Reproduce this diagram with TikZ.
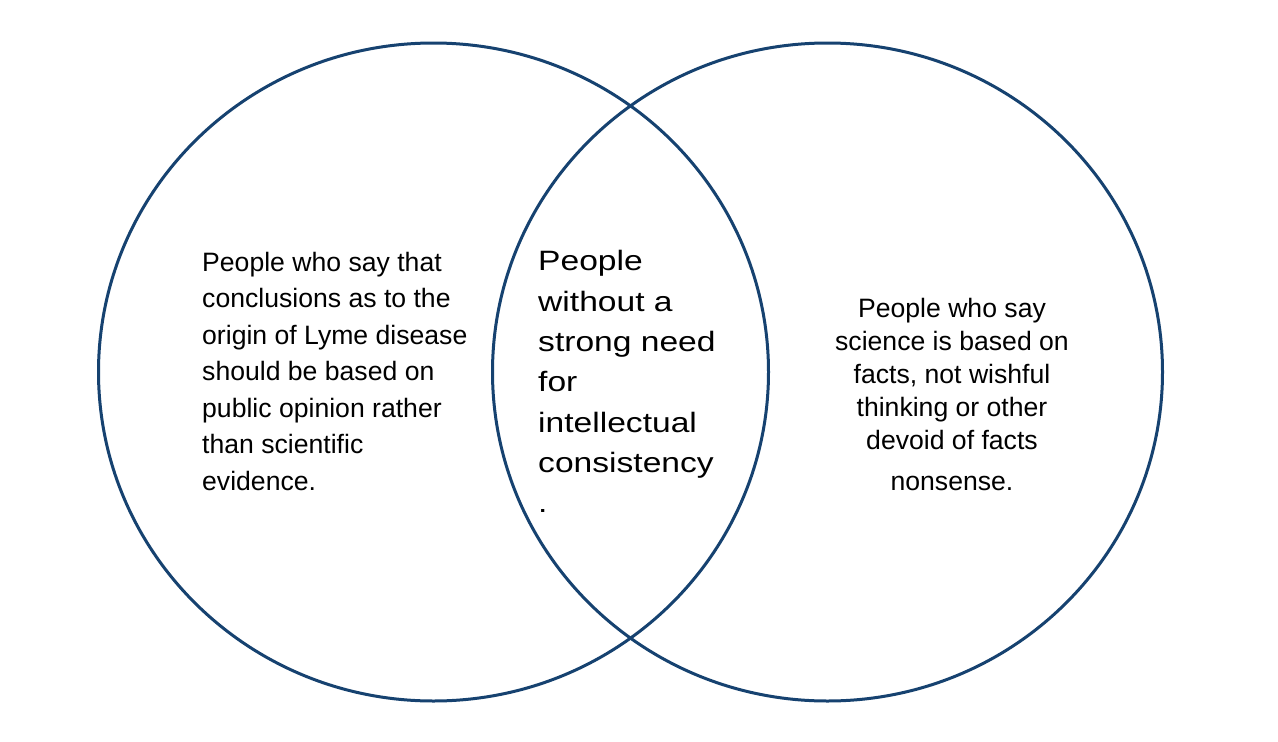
\documentclass[tikz,border=0pt]{standalone}
\usepackage{fontspec}
\setmainfont{Liberation Sans}
\newfontfamily\widefont[FakeStretch=1.2]{Liberation Sans}
\usetikzlibrary{shapes.geometric}
\definecolor{vennblue}{RGB}{22,66,112}
\tikzset{
  ring/.style={draw=vennblue, line width=3pt, ellipse, inner sep=0pt,
    minimum width=670pt, minimum height=658pt},
  sidetext/.style={inner sep=0pt, font=\fontsize{26.6}{36.5}\selectfont},
  midtext/.style={inner sep=0pt, font=\widefont\fontsize{28}{40.3}\selectfont}
}
\begin{document}
\begin{tikzpicture}[x=1pt,y=-1pt]
\fill[white] (0,0) rectangle (1278,742);
\useasboundingbox (0,0) rectangle (1278,742);
\node[ring] (leftset) at (433.5,372) {};
\node[ring] (rightset) at (827.5,372) {};
\node[sidetext, anchor=north west, align=left] (lefttext) at (202,252)
  {People who say that\\conclusions as to the\\origin of Lyme disease\\should be based on\\public opinion rather\\than scientific\\evidence.};
\node[midtext, anchor=north west, align=left] (midtext) at (538,250.5)
  {People\\without a\\strong need\\for\\intellectual\\consistency\\.};
\node[sidetext, anchor=north, align=center, font=\fontsize{26.6}{32.8}\selectfont] (righttext) at (952,298.5)
  {People who say\\science is based on\\facts, not wishful\\thinking or other\\devoid of facts\\[9pt]nonsense.};
\end{tikzpicture}
\end{document}
